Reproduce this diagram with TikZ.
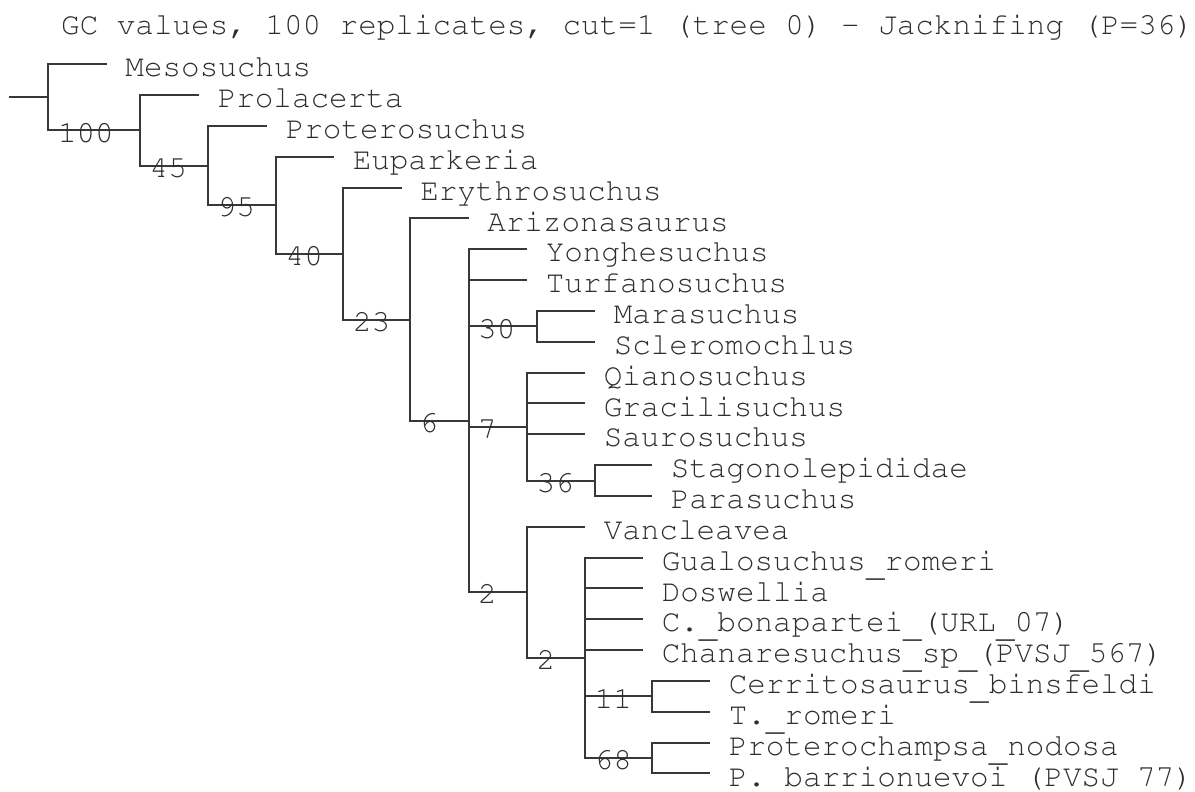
\documentclass[tikz,border=0pt]{standalone}
\usepackage[T1,TU]{fontenc}
\newcommand\courfont{\fontencoding{T1}\fontfamily{pcr}\fontseries{m}\fontshape{n}\fontsize{30.95}{31}\selectfont}
\newcommand\us{\raisebox{-6pt}{\_}}
\tikzset{
  branch/.style={draw=black!78, line width=2pt, line join=miter},
  leaf/.style={anchor=base west, inner sep=0pt, text=black!82, font=\courfont},
  lab/.style={anchor=base west, inner sep=0pt, text=black!82, font=\courfont},
}
\begin{document}
\begin{tikzpicture}[x=1pt,y=-1pt]
\path[fill=white,use as bounding box] (0,0) rectangle (1195,792);
% title
\node[leaf] (title) at (61,35) {GC values, 100 replicates, cut=1 (tree 0) - Jacknifing (P=36)};
% internal nodes
\coordinate (root) at (9,97.33);
\coordinate (A) at (48.3,97.33);
\coordinate (B) at (140,130.36);
\coordinate (C) at (208,165.58);
\coordinate (D) at (276,205.2);
\coordinate (E) at (343.3,253.6);
\coordinate (F) at (410,319.61);
\coordinate (G) at (468.5,420.77);
\coordinate (J) at (537,326.36);
\coordinate (H) at (527,426.55);
\coordinate (I) at (595,480.5);
\coordinate (K) at (527,592.26);
\coordinate (M) at (585,657.78);
\coordinate (N) at (652,696.3);
\coordinate (O) at (652,757.98);
% leaf tips
\coordinate (t0) at (106.7,64.3);
\coordinate (t1) at (199,95.13);
\coordinate (t2) at (267,125.96);
\coordinate (t3) at (334,156.79);
\coordinate (t4) at (401.5,187.62);
\coordinate (t5) at (468.5,218.45);
\coordinate (t6) at (527,249.28);
\coordinate (t7) at (527,280.11);
\coordinate (t8) at (595,310.94);
\coordinate (t9) at (595,341.77);
\coordinate (t10) at (585,372.6);
\coordinate (t11) at (585,403.43);
\coordinate (t12) at (585,434.26);
\coordinate (t13) at (652,465.09);
\coordinate (t14) at (652,495.92);
\coordinate (t15) at (585,526.75);
\coordinate (t16) at (643,557.58);
\coordinate (t17) at (643,588.41);
\coordinate (t18) at (643,619.24);
\coordinate (t19) at (643,650.07);
\coordinate (t20) at (710,680.9);
\coordinate (t21) at (710,711.73);
\coordinate (t22) at (710,742.56);
\coordinate (t23) at (710,773.39);
% leaf labels
\path (t0) ++(18.57,12.7) node[leaf] (n0) {Mesosuchus};
\path (t1) ++(18.57,12.7) node[leaf] (n1) {Prolacerta};
\path (t2) ++(18.57,12.7) node[leaf] (n2) {Proterosuchus};
\path (t3) ++(18.57,12.7) node[leaf] (n3) {Euparkeria};
\path (t4) ++(18.57,12.7) node[leaf] (n4) {Erythrosuchus};
\path (t5) ++(18.57,12.7) node[leaf] (n5) {Arizonasaurus};
\path (t6) ++(18.57,12.7) node[leaf] (n6) {Yonghesuchus};
\path (t7) ++(18.57,12.7) node[leaf] (n7) {Turfanosuchus};
\path (t8) ++(18.57,12.7) node[leaf] (n8) {Marasuchus};
\path (t9) ++(18.57,12.7) node[leaf] (n9) {Scleromochlus};
\path (t10) ++(18.57,12.7) node[leaf] (n10) {Qianosuchus};
\path (t11) ++(18.57,12.7) node[leaf] (n11) {Gracilisuchus};
\path (t12) ++(18.57,12.7) node[leaf] (n12) {Saurosuchus};
\path (t13) ++(18.57,12.7) node[leaf] (n13) {Stagonolepididae};
\path (t14) ++(18.57,12.7) node[leaf] (n14) {Parasuchus};
\path (t15) ++(18.57,12.7) node[leaf] (n15) {Vancleavea};
\path (t16) ++(18.57,12.7) node[leaf] (n16) {Gualosuchus\us romeri};
\path (t17) ++(18.57,12.7) node[leaf] (n17) {Doswellia};
\path (t18) ++(18.57,12.7) node[leaf] (n18) {C.\us bonapartei\us (URL\us 07)};
\path (t19) ++(18.57,12.7) node[leaf] (n19) {Chanaresuchus\us sp\us (PVSJ\us 567)};
\path (t20) ++(18.57,12.7) node[leaf] (n20) {Cerritosaurus\us binsfeldi};
\path (t21) ++(18.57,12.7) node[leaf] (n21) {T.\us romeri};
\path (t22) ++(18.57,12.7) node[leaf] (n22) {Proterochampsa\us nodosa};
\path (t23) ++(18.57,12.7) node[leaf] (n23) {P.\us barrionuevoi\us (PVSJ\us 77)};
% branches
\draw[branch] (root) -- (A);
\draw[branch] (A) |- (t0);
\draw[branch] (A) |- (B);
\draw[branch] (B) |- (t1);
\draw[branch] (B) |- (C);
\draw[branch] (C) |- (t2);
\draw[branch] (C) |- (D);
\draw[branch] (D) |- (t3);
\draw[branch] (D) |- (E);
\draw[branch] (E) |- (t4);
\draw[branch] (E) |- (F);
\draw[branch] (F) |- (t5);
\draw[branch] (F) |- (G);
\draw[branch] (G) |- (t6);
\draw[branch] (G) |- (t7);
\draw[branch] (G) |- (J);
\draw[branch] (G) |- (H);
\draw[branch] (G) |- (K);
\draw[branch] (J) |- (t8);
\draw[branch] (J) |- (t9);
\draw[branch] (H) |- (t10);
\draw[branch] (H) |- (t11);
\draw[branch] (H) |- (t12);
\draw[branch] (H) |- (I);
\draw[branch] (I) |- (t13);
\draw[branch] (I) |- (t14);
\draw[branch] (K) |- (t15);
\draw[branch] (K) |- (M);
\draw[branch] (M) |- (t16);
\draw[branch] (M) |- (t17);
\draw[branch] (M) |- (t18);
\draw[branch] (M) |- (t19);
\draw[branch] (M) |- (N);
\draw[branch] (M) |- (O);
\draw[branch] (N) |- (t20);
\draw[branch] (N) |- (t21);
\draw[branch] (O) |- (t22);
\draw[branch] (O) |- (t23);
% support values
\path (A |- B) ++(9.5,11.7) node[lab] (vB) {100};
\path (B |- C) ++(9.5,11.7) node[lab] (vC) {45};
\path (C |- D) ++(9.5,11.7) node[lab] (vD) {95};
\path (D |- E) ++(9.5,11.7) node[lab] (vE) {40};
\path (E |- F) ++(9.5,11.7) node[lab] (vF) {23};
\path (F |- G) ++(9.5,11.7) node[lab] (vG) {6};
\path (G |- J) ++(9.5,11.7) node[lab] (vJ) {30};
\path (G |- H) ++(9.5,11.7) node[lab] (vH) {7};
\path (G |- K) ++(9.5,11.7) node[lab] (vK) {2};
\path (H |- I) ++(9.5,11.7) node[lab] (vI) {36};
\path (K |- M) ++(9.5,11.7) node[lab] (vM) {2};
\path (M |- N) ++(9.5,11.7) node[lab] (vN) {11};
\path (M |- O) ++(9.5,11.7) node[lab] (vO) {68};
\end{tikzpicture}
\end{document}
